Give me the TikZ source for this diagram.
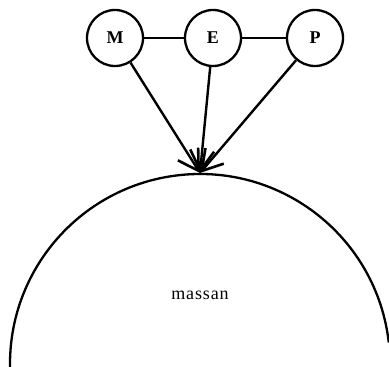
\documentclass[tikz,border=0pt]{standalone}
\usepackage{fontspec}
\setmainfont{Liberation Serif}
\usetikzlibrary{arrows.meta}
\begin{document}
\begin{tikzpicture}[x=1pt,y=1pt,
  ring/.style={draw,circle,minimum size=56pt,inner sep=0pt,line width=2.3pt,font=\bfseries\fontsize{18}{20}\selectfont},
  link/.style={line width=2.2pt},
  arr/.style={line width=2.4pt,-{Straight Barb[length=20pt,width=24pt,line width=2.6pt]}}]
\useasboundingbox (0,0) rectangle (389,367);
\clip (0,0) rectangle (389,367);
\node[ring] (M) at (115,329) {M};
\node[ring] (E) at (213,329) {E};
\node[ring] (P) at (315,329) {P};
\coordinate (tip) at (200,194);
\draw[link] (M) -- (E);
\draw[link] (E) -- (P);
\draw[arr] (M) -- (tip);
\draw[arr] (E) -- (tip);
\draw[arr] (P) -- (tip);
\coordinate (c) at (200,3);
\draw[line width=2.3pt] ([shift={(6.5:190)}]c) arc[start angle=6.5,end angle=183,radius=190];
\node (massan) at (200,72) {\fontsize{18}{20}\selectfont\addfontfeature{LetterSpace=5}massan};
\end{tikzpicture}
\end{document}
